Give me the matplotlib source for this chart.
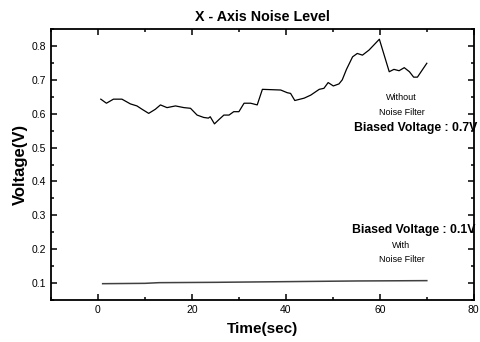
import matplotlib
matplotlib.use("Agg")
import matplotlib.pyplot as plt
from matplotlib.ticker import MultipleLocator

plt.rcParams['font.family'] = ['Liberation Sans', 'DejaVu Sans']

# Without noise filter
t_raw = [0.6, 1.8, 3.3, 5.1, 6.9, 8.3, 9.4, 10.8, 12.2, 13.3, 14.7, 16.5, 18.3,
         19.7, 21.1, 22.5, 23.5, 23.9, 24.8, 25.7, 26.8, 27.9, 28.9, 30.0, 31.1,
         32.5, 33.9, 35.0, 38.9, 40.3, 41.0, 41.9, 43.9, 45.3, 47.1, 48.1, 49.0,
         50.1, 51.3, 52.0, 52.9, 54.2, 55.2, 56.3, 57.7, 59.9, 62.0, 63.0, 64.1,
         65.2, 66.3, 67.2, 68.0, 70.0]
v_raw = [0.643, 0.631, 0.643, 0.643, 0.629, 0.623, 0.613, 0.601, 0.613, 0.626,
         0.618, 0.623, 0.618, 0.616, 0.596, 0.589, 0.587, 0.591, 0.570, 0.582,
         0.596, 0.596, 0.606, 0.606, 0.631, 0.631, 0.626, 0.672, 0.670, 0.662,
         0.660, 0.639, 0.646, 0.655, 0.672, 0.675, 0.692, 0.682, 0.688, 0.700,
         0.731, 0.768, 0.778, 0.773, 0.788, 0.820, 0.724, 0.731, 0.727, 0.736,
         0.724, 0.708, 0.708, 0.749]

# With noise filter
t_filt = [1, 10, 13, 25, 40, 55, 70]
v_filt = [0.098, 0.099, 0.101, 0.102, 0.104, 0.106, 0.107]

fig = plt.figure(figsize=(4.81, 3.42), dpi=100)
ax = fig.add_axes([0.106, 0.123, 0.879, 0.792])

ax.plot(t_raw, v_raw, color='black', lw=0.9)
ax.plot(t_filt, v_filt, color='#404040', lw=1.1)

ax.set_xlim(-10, 80)
ax.set_ylim(0.05, 0.85)
ax.xaxis.set_major_locator(MultipleLocator(20))
ax.xaxis.set_minor_locator(MultipleLocator(10))
ax.yaxis.set_minor_locator(MultipleLocator(0.05))
ax.tick_params(which='both', direction='in', top=True, right=True, width=1.1)
ax.tick_params(which='major', length=4.5, labelsize=7.5)
ax.tick_params(which='minor', length=2.5)
ax.set_yticks([0.1, 0.2, 0.3, 0.4, 0.5, 0.6, 0.7, 0.8])
ax.set_yticklabels(['0.1', '0.2', '0.3', '0.4', '0.5', '0.6', '0.7', '0.8'])
for s in ax.spines.values():
    s.set_linewidth(1.3)

ax.set_title('X - Axis Noise Level', fontsize=10.3, fontweight='bold', pad=6)
ax.set_xlabel('Time(sec)', fontsize=11, fontweight='bold', labelpad=5)
ax.set_ylabel('Voltage(V)', fontsize=12, fontweight='bold', labelpad=3)

ax.text(64.6, 0.647, 'Without', fontsize=6.5, ha='center', va='center')
ax.text(64.6, 0.605, 'Noise Filter', fontsize=6.5, ha='center', va='center')
ax.text(54.5, 0.558, 'Biased Voltage : 0.7V', fontsize=8.8, fontweight='bold',
        ha='left', va='center')
ax.text(54.0, 0.257, 'Biased Voltage : 0.1V', fontsize=8.8, fontweight='bold',
        ha='left', va='center')
ax.text(64.6, 0.212, 'With', fontsize=6.5, ha='center', va='center')
ax.text(64.6, 0.168, 'Noise Filter', fontsize=6.5, ha='center', va='center')

fig.savefig('out.png', dpi=100)
